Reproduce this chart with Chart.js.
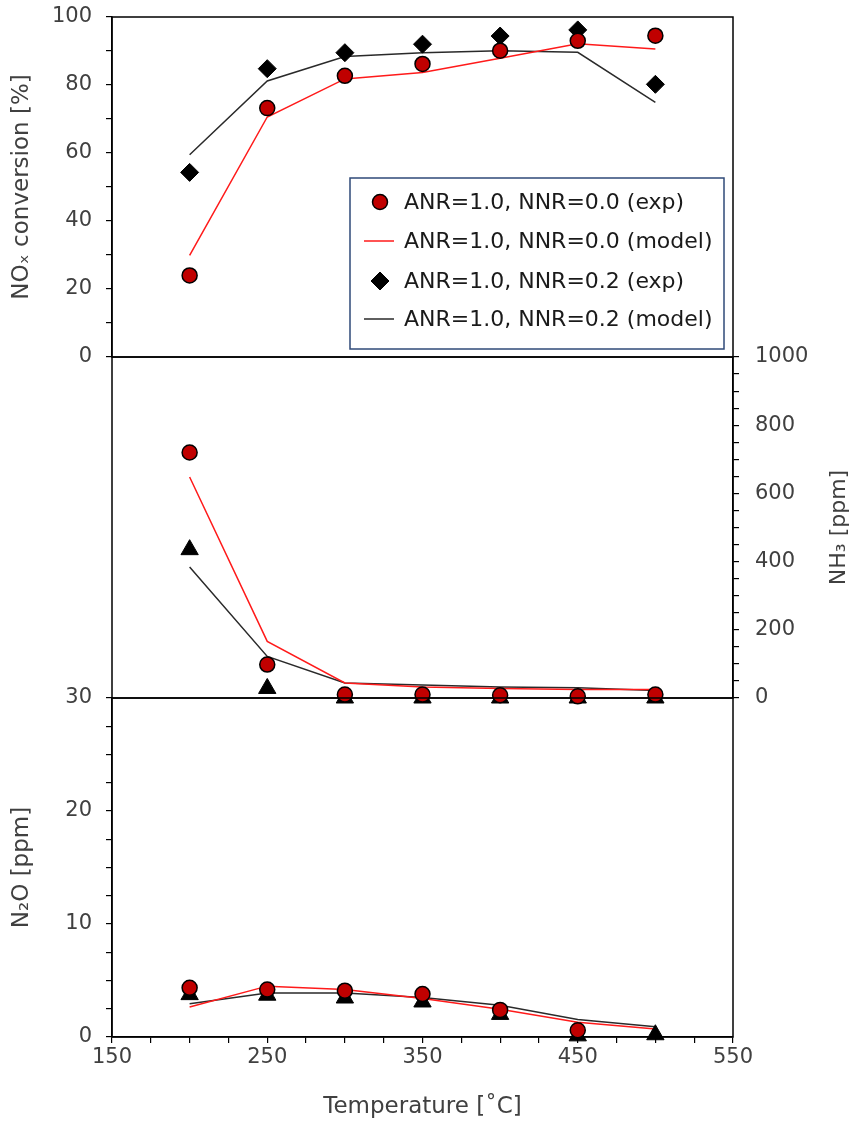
<!DOCTYPE html>
<html>
<head>
<meta charset="utf-8">
<script src="https://cdn.jsdelivr.net/npm/chart.js@4.4.1/dist/chart.umd.min.js"></script>
<style>
  html, body { margin: 0; padding: 0; background: #fff; }
  #wrap { position: relative; width: 856px; height: 1128px; }
  #wrap canvas { position: absolute; left: 0; top: 0; }
</style>
</head>
<body>
<div id="wrap">
  <canvas id="nox" width="856" height="1128"></canvas>
  <canvas id="nh3" width="856" height="1128"></canvas>
  <canvas id="n2o" width="856" height="1128"></canvas>
</div>
<script>
// temperatures [°C]
const temps = [200, 250, 300, 350, 400, 450, 500];

// NOx conversion [%]
const noxExpA   = [24, 73.2, 82.7, 86.2, 90.1, 93, 94.5];
const noxModelA = [29.9, 70.6, 81.8, 83.7, 87.9, 92.1, 90.6];
const noxExpB   = [54.3, 84.8, 89.5, 92, 94.4, 96.2, 80.2];
const noxModelB = [59.5, 81.2, 88.4, 89.5, 90.1, 89.6, 74.9];

// NH3 [ppm]
const nh3ExpA   = [720, 98, 10, 10, 8, 5, 10];
const nh3ModelA = [648, 166, 44, 32, 28, 25, 25];
const nh3ExpB   = [435, 28, 0, 0, 0, 0, 0];
const nh3ModelB = [384, 122, 44, 38, 32, 30, 22];

// N2O [ppm]
const n2oExpA   = [4.35, 4.2, 4.1, 3.8, 2.4, 0.6, null];
const n2oModelA = [2.65, 4.5, 4.2, 3.4, 2.45, 1.3, 0.7];
const n2oExpB   = [3.75, 3.7, 3.45, 3.1, 2.0, 0.1, 0.2];
const n2oModelB = [2.95, 3.9, 3.9, 3.5, 2.8, 1.55, 0.9];

const legendLabels = [
  'ANR=1.0, NNR=0.0 (exp)',
  'ANR=1.0, NNR=0.0 (model)',
  'ANR=1.0, NNR=0.2 (exp)',
  'ANR=1.0, NNR=0.2 (model)'
];

const FONT = 'DejaVu Sans';
const TXT = '#404040';
const RED_FILL = '#C00000';
const RED_LINE = '#FF1A1A';
const BLACK_LINE = '#2a2a2a';

function pts(arr) {
  return temps.map((t, i) => ({ x: t, y: arr[i] }));
}

function expSet(label, arr, style, yAxis) {
  const red = style === 'circle';
  return {
    label: label,
    data: pts(arr),
    yAxisID: yAxis,
    showLine: false,
    clip: false,
    pointStyle: style,
    pointRadius: red ? 7.5 : (style === 'triangle' ? 10 : 9),
    pointBackgroundColor: red ? RED_FILL : '#000',
    pointBorderColor: '#000',
    pointBorderWidth: red ? 1.5 : 1,
    order: red ? 0 : 1
  };
}

function modelSet(label, arr, color, yAxis, order) {
  return {
    label: label,
    data: pts(arr),
    yAxisID: yAxis,
    borderColor: color,
    borderWidth: 1.5,
    pointRadius: 0,
    tension: 0,
    order: order
  };
}

// draws the box around the plot area
const framePlugin = {
  id: 'frame',
  beforeDatasetsDraw(chart) {
    const a = chart.chartArea;
    const ctx = chart.ctx;
    ctx.save();
    ctx.strokeStyle = '#000';
    ctx.lineWidth = 1.5;
    ctx.strokeRect(a.left, a.top, a.right - a.left, a.bottom - a.top);
    ctx.restore();
  }
};

// legend box inside the top panel
const legendBox = {
  id: 'legendBox',
  afterDraw(chart) {
    const ctx = chart.ctx;
    ctx.save();
    ctx.fillStyle = '#fff';
    ctx.fillRect(350, 178, 374, 171);
    ctx.strokeStyle = '#2F4A78';
    ctx.lineWidth = 1.5;
    ctx.strokeRect(350, 178, 374, 171);
    const rows = [202, 241, 281, 319];
    // legend order: exp A, model A, exp B, model B
    const sets = [0, 1, 2, 3].map(i => chart.data.datasets[i]);
    sets.forEach((ds, i) => {
      const y = rows[i];
      if (ds.showLine === false) {
        ctx.fillStyle = ds.pointBackgroundColor;
        ctx.strokeStyle = ds.pointBorderColor;
        ctx.lineWidth = ds.pointBorderWidth;
        Chart.helpers.drawPoint(ctx, { pointStyle: ds.pointStyle, radius: ds.pointRadius, rotation: 0, borderWidth: ds.pointBorderWidth }, 380, y);
      } else {
        ctx.strokeStyle = ds.borderColor;
        ctx.lineWidth = ds.borderWidth;
        ctx.beginPath();
        ctx.moveTo(364, y);
        ctx.lineTo(394, y);
        ctx.stroke();
      }
      ctx.fillStyle = '#1a1a1a';
      ctx.font = '22px "' + FONT + '"';
      ctx.textBaseline = 'middle';
      ctx.textAlign = 'left';
      ctx.fillText(legendLabels[i], 404, y + 1);
    });
    ctx.restore();
  }
};

// NH3 title on the right, reading bottom to top
const nh3Title = {
  id: 'nh3Title',
  afterDraw(chart) {
    const ctx = chart.ctx;
    const a = chart.chartArea;
    ctx.save();
    ctx.translate(839, (a.top + a.bottom) / 2);
    ctx.rotate(-Math.PI / 2);
    ctx.fillStyle = TXT;
    ctx.font = '22px "' + FONT + '"';
    ctx.textAlign = 'center';
    ctx.textBaseline = 'middle';
    ctx.fillText('NH₃ [ppm]', 0, 0);
    ctx.restore();
  }
};

const tickFont = { family: FONT, size: 21 };
const titleFont = { family: FONT, size: 23 };
const gridStyle = { drawOnChartArea: false, drawTicks: true, tickLength: 6, color: '#000', lineWidth: 1.2 };
const borderStyle = { display: true, color: '#000', width: 1.5 };

function xScale(show) {
  const s = {
    type: 'linear',
    min: 150,
    max: 550,
    display: show,
    border: borderStyle,
    grid: gridStyle,
    ticks: {
      stepSize: 25,
      autoSkip: false,
      maxRotation: 0,
      padding: 2,
      color: TXT,
      font: tickFont,
      callback: v => ((v - 150) % 100 === 0 ? v : '')
    },
    title: {
      display: show,
      text: 'Temperature [˚C]',
      color: TXT,
      font: titleFont,
      padding: { top: 0, bottom: 7 }
    }
  };
  if (show) s.afterFit = scale => { scale.height = 91; };
  return s;
}

function leftY(min, max, step, labelEvery, title) {
  return {
    type: 'linear',
    position: 'left',
    min: min,
    max: max,
    border: borderStyle,
    grid: gridStyle,
    ticks: {
      stepSize: step,
      autoSkip: false,
      padding: 14,
      color: TXT,
      font: tickFont,
      callback: v => (Math.abs(v % labelEvery) < 1e-6 ? v : '')
    },
    title: {
      display: true,
      text: title,
      color: TXT,
      font: titleFont,
      padding: { top: 8, bottom: 0 }
    },
    afterFit(scale) {
      scale.width = 112;
      scale.paddingTop = 0;
      scale.paddingBottom = 0;
    }
  };
}

const common = {
  responsive: false,
  animation: false,
  devicePixelRatio: 1,
  plugins: { legend: { display: false }, tooltip: { enabled: false } }
};

// top: NOx conversion
new Chart(document.getElementById('nox'), {
  type: 'line',
  data: {
    datasets: [
      expSet(legendLabels[0], noxExpA, 'circle', 'y'),
      modelSet(legendLabels[1], noxModelA, RED_LINE, 'y', 2),
      expSet(legendLabels[2], noxExpB, 'rectRot', 'y'),
      modelSet(legendLabels[3], noxModelB, BLACK_LINE, 'y', 3)
    ]
  },
  options: Object.assign({}, common, {
    layout: { padding: { top: 17, bottom: 1128 - 357, left: 0, right: 123 } },
    scales: {
      x: xScale(false),
      y: leftY(0, 100, 10, 20, 'NOₓ conversion [%]')
    }
  }),
  plugins: [framePlugin, legendBox]
});

// middle: NH3 slip
new Chart(document.getElementById('nh3'), {
  type: 'line',
  data: {
    datasets: [
      expSet(legendLabels[0], nh3ExpA, 'circle', 'y'),
      modelSet(legendLabels[1], nh3ModelA, RED_LINE, 'y', 2),
      expSet(legendLabels[2], nh3ExpB, 'triangle', 'y'),
      modelSet(legendLabels[3], nh3ModelB, BLACK_LINE, 'y', 3)
    ]
  },
  options: Object.assign({}, common, {
    layout: { padding: { top: 357, bottom: 1128 - 698, left: 112, right: 0 } },
    scales: {
      x: xScale(false),
      y: {
        type: 'linear',
        position: 'right',
        min: 0,
        max: 1000,
        border: borderStyle,
        grid: gridStyle,
        ticks: {
          stepSize: 50,
          autoSkip: false,
          padding: 16,
          color: TXT,
          font: tickFont,
          callback: v => (v % 200 === 0 ? v : '')
        },
        afterFit(scale) {
          scale.width = 123;
          scale.paddingTop = 0;
          scale.paddingBottom = 0;
        }
      }
    }
  }),
  plugins: [framePlugin, nh3Title]
});

// bottom: N2O
new Chart(document.getElementById('n2o'), {
  type: 'line',
  data: {
    datasets: [
      expSet(legendLabels[0], n2oExpA, 'circle', 'y'),
      modelSet(legendLabels[1], n2oModelA, RED_LINE, 'y', 2),
      expSet(legendLabels[2], n2oExpB, 'triangle', 'y'),
      modelSet(legendLabels[3], n2oModelB, BLACK_LINE, 'y', 3)
    ]
  },
  options: Object.assign({}, common, {
    layout: { padding: { top: 698, bottom: 0, left: 0, right: 123 } },
    scales: {
      x: xScale(true),
      y: leftY(0, 30, 2.5, 10, 'N₂O [ppm]')
    }
  }),
  plugins: [framePlugin]
});
</script>
</body>
</html>
